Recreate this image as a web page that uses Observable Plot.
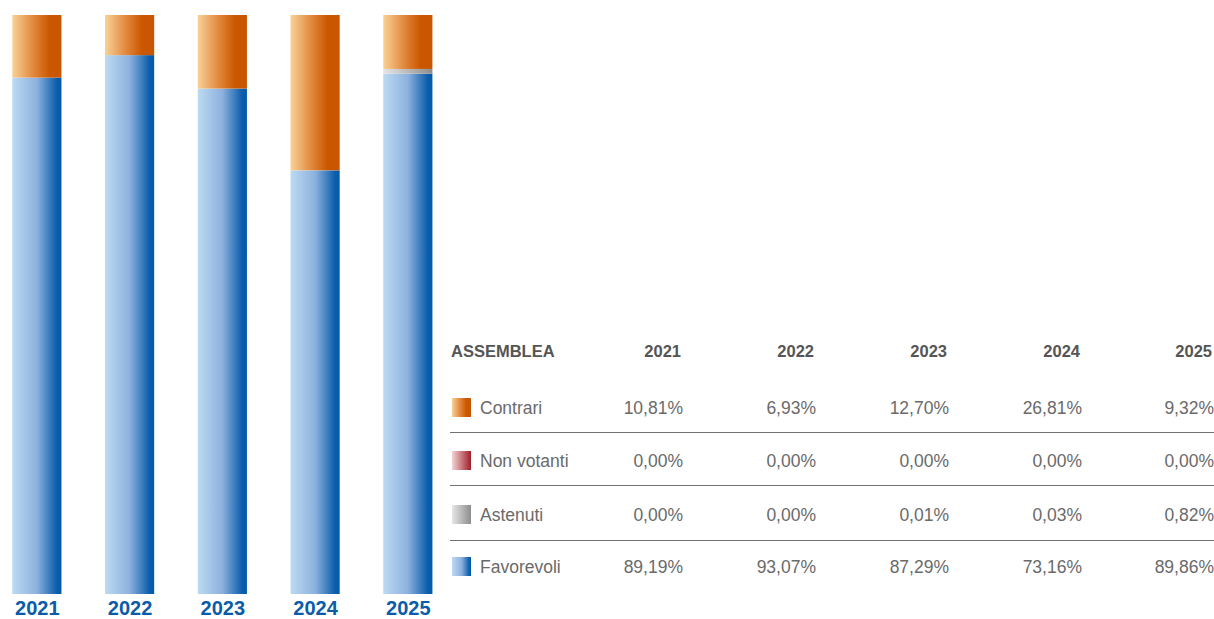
<!DOCTYPE html>
<html>
<head>
<meta charset="utf-8">
<script src="https://cdn.jsdelivr.net/npm/d3@7"></script>
<script src="https://cdn.jsdelivr.net/npm/@observablehq/plot@0.6"></script>
<style>
  html, body { margin: 0; padding: 0; background: #fff; }
  body { width: 1214px; height: 619px; position: relative; overflow: hidden; font-family: "Liberation Sans", Arial, sans-serif; }
  #chart { position: absolute; left: 0; top: 0; }
  #table { position: absolute; left: 0; top: 0; width: 1214px; height: 619px; }
  .cell { position: absolute; white-space: nowrap; transform: translateY(-50%); }
  .hdr { font-weight: bold; font-size: 16.5px; color: #555; }
  .val { font-size: 17.5px; color: #6a6a6a; text-align: right; }
  .lab { font-size: 17.5px; color: #6a6a6a; }
  .rule { position: absolute; height: 1px; background: #727272; }
  .sw { position: absolute; width: 19px; height: 19px; }
</style>
</head>
<body>
<div id="chart"></div>
<div id="table"></div>
<script>
// ---- data ----
const years = ["2021", "2022", "2023", "2024", "2025"];
const categories = ["Contrari", "Non votanti", "Astenuti", "Favorevoli"];
const contrari   = [10.81, 6.93, 12.70, 26.81, 9.32];
const nonVotanti = [0.00, 0.00, 0.00, 0.00, 0.00];
const astenuti   = [0.00, 0.00, 0.01, 0.03, 0.82];
const favorevoli = [89.19, 93.07, 87.29, 73.16, 89.86];
const tableTitle = "ASSEMBLEA";

const seriesValues = {
  "Contrari": contrari,
  "Non votanti": nonVotanti,
  "Astenuti": astenuti,
  "Favorevoli": favorevoli
};

// gradient definitions per category
const gradients = {
  "Favorevoli": {id: "g-fav", stops: [[0, "#bcdaf2"], [0.5, "#8db1de"], [0.9, "#0d5eac"], [1, "#005aaa"]]},
  "Astenuti": {id: "g-ast", stops: [[0, "#e6e6e6"], [1, "#8d8d8f"]]},
  "Non votanti": {id: "g-non", stops: [[0, "#f2d4d4"], [1, "#a01e2a"]]},
  "Contrari": {id: "g-con", stops: [[0, "#f9d196"], [0.45, "#e08439"], [0.75, "#cb5800"], [1, "#c85500"]]}
};

// stacking order: bottom to top
const stackOrder = ["Favorevoli", "Astenuti", "Non votanti", "Contrari"];
const rows = [];
years.forEach((y, i) => {
  stackOrder.forEach(c => rows.push({year: y, cat: c, value: seriesValues[c][i]}));
});

const chart = Plot.plot({
  width: 440,
  height: 619,
  marginLeft: 0,
  marginRight: 0,
  marginTop: 15,
  marginBottom: 25,
  style: {fontFamily: "'Liberation Sans', Arial, sans-serif", background: "transparent"},
  x: {domain: years, range: [-31.3, 476], paddingInner: 0.47, paddingOuter: 0.47, round: false, label: null},
  y: {domain: [0, 100], axis: null},
  color: {type: "identity"},
  marks: [
    Plot.barY(rows, {
      x: "year",
      y: "value",
      z: "cat",
      fill: d => `url(#${gradients[d.cat].id})`,
      order: null
    }),
    Plot.axisX({
      tickSize: 0,
      tickPadding: 6,
      fontSize: 20,
      fontWeight: "bold",
      fill: "#0a5ca9",
      label: null
    })
  ]
});

// add gradient defs
const svg = d3.select(chart);
const defs = svg.insert("defs", ":first-child");
Object.values(gradients).forEach(g => {
  const lg = defs.append("linearGradient").attr("id", g.id)
    .attr("x1", "0").attr("x2", "1").attr("y1", "0").attr("y2", "0");
  g.stops.forEach(([o, c]) => lg.append("stop").attr("offset", o).attr("stop-color", c));
});
document.getElementById("chart").appendChild(chart);

// ---- table ----
const tbl = document.getElementById("table");
const colRight = [683, 816, 949, 1082, 1214];
const headerY = 351;
const rowY = [408, 461, 515, 567];
const ruleY = [432, 485, 540];
const fmt = v => v.toFixed(2).replace(".", ",") + "%";

function addCell(cls, text, styles) {
  const d = document.createElement("div");
  d.className = "cell " + cls;
  d.textContent = text;
  Object.assign(d.style, styles);
  tbl.appendChild(d);
  return d;
}

addCell("hdr", tableTitle, {left: "451px", top: headerY + "px"});
years.forEach((y, i) => {
  addCell("hdr", y, {right: (1214 - colRight[i] + 2) + "px", top: headerY + "px"});
});

categories.forEach((c, r) => {
  const g = gradients[c];
  const sw = document.createElement("div");
  sw.className = "sw";
  sw.style.left = "452px";
  sw.style.top = (rowY[r] - 10) + "px";
  sw.style.background = "linear-gradient(to right, " + g.stops.map(([o, col]) => col + " " + (o * 100) + "%").join(", ") + ")";
  tbl.appendChild(sw);
  addCell("lab", c, {left: "480px", top: rowY[r] + "px"});
  seriesValues[c].forEach((v, i) => {
    addCell("val", fmt(v), {right: (1214 - colRight[i]) + "px", top: rowY[r] + "px"});
  });
});

ruleY.forEach(y => {
  const l = document.createElement("div");
  l.className = "rule";
  l.style.left = "450px";
  l.style.width = "764px";
  l.style.top = y + "px";
  tbl.appendChild(l);
});
</script>
</body>
</html>
